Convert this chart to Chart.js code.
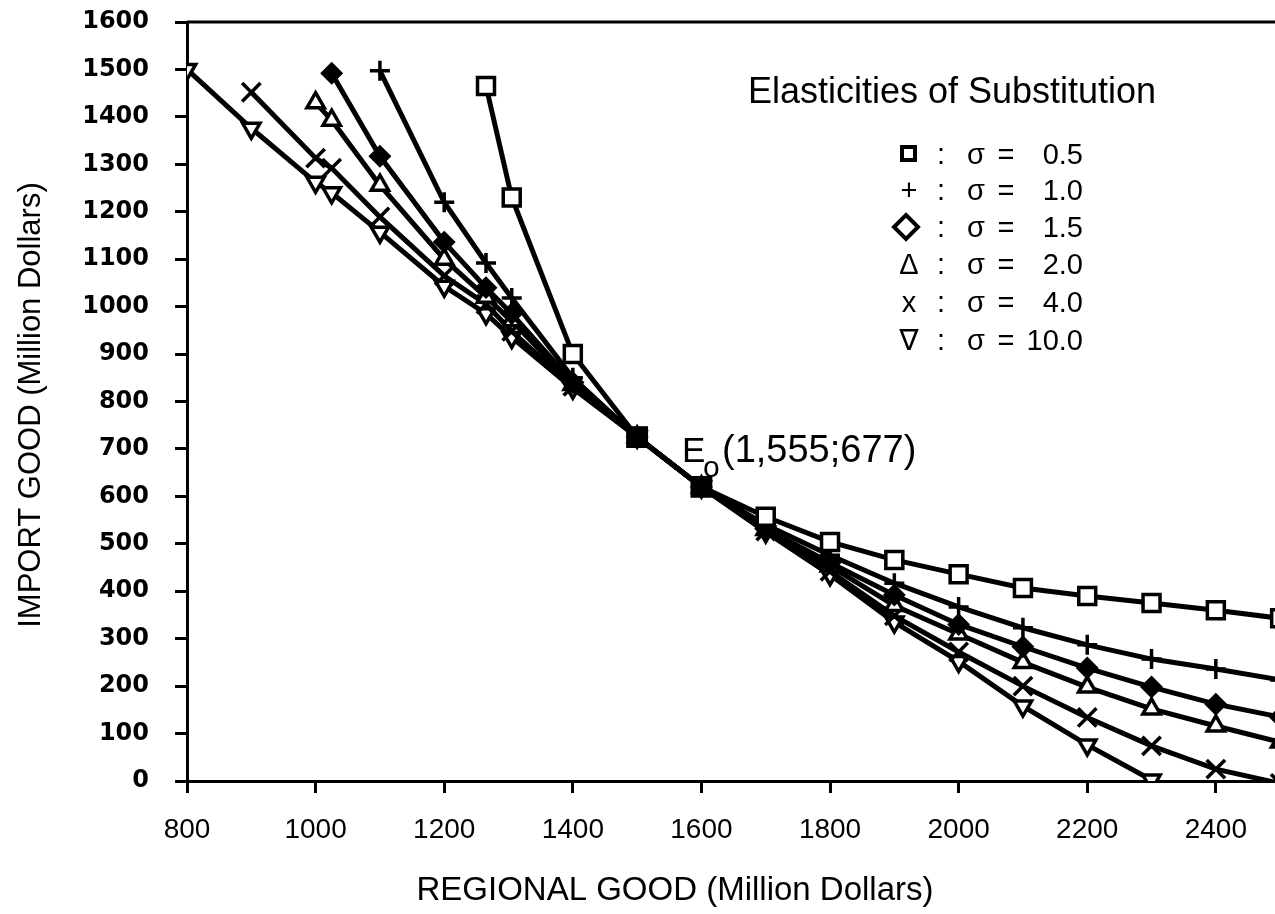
<!DOCTYPE html>
<html>
<head>
<meta charset="utf-8">
<script src="https://cdn.jsdelivr.net/npm/chart.js@4"></script>
<style>
  html, body { margin: 0; padding: 0; background: #fff; }
  #wrap { width: 1275px; height: 914px; }
</style>
</head>
<body>
<div id="wrap"><canvas id="chart" width="1275" height="914"></canvas></div>
<script>
// tick labels
const xTicks = [800, 1000, 1200, 1400, 1600, 1800, 2000, 2200, 2400];
const yTicks = [0, 100, 200, 300, 400, 500, 600, 700, 800, 900, 1000, 1100, 1200, 1300, 1400, 1500, 1600];

// series values (regional good, import good)
const s05x = [1265, 1305, 1400, 1500, 1600, 1700, 1800, 1900, 2000, 2100, 2200, 2300, 2400, 2500];
const s05y = [1465, 1230, 900, 725, 620, 557, 504, 466, 436, 407, 390, 375, 360, 343];

const s10x = [1100, 1200, 1265, 1305, 1400, 1500, 1600, 1700, 1800, 1900, 2000, 2100, 2200, 2300, 2400, 2500];
const s10y = [1497, 1220, 1092, 1018, 850, 725, 620, 540, 476, 417, 367, 323, 287, 257, 236, 213];

const s15x = [1025, 1100, 1200, 1265, 1305, 1400, 1500, 1600, 1700, 1800, 1900, 2000, 2100, 2200, 2300, 2400, 2500];
const s15y = [1492, 1317, 1136, 1040, 985, 840, 725, 620, 532, 460, 392, 330, 283, 238, 198, 162, 135];

const s20x = [1000, 1025, 1100, 1200, 1265, 1305, 1400, 1500, 1600, 1700, 1800, 1900, 2000, 2100, 2200, 2300, 2400, 2500];
const s20y = [1430, 1393, 1256, 1100, 1020, 970, 836, 725, 620, 530, 453, 370, 310, 250, 198, 152, 116, 82];

const s40x = [900, 1000, 1025, 1100, 1200, 1265, 1305, 1400, 1500, 1600, 1700, 1800, 1900, 2000, 2100, 2200, 2300, 2400, 2500];
const s40y = [1452, 1313, 1292, 1189, 1065, 1005, 948, 832, 725, 620, 527, 442, 348, 272, 200, 134, 74, 25, -5];

const s100x = [800, 900, 1000, 1025, 1100, 1200, 1265, 1305, 1400, 1500, 1600, 1700, 1800, 1900, 2000, 2100, 2200, 2300];
const s100y = [1500, 1376, 1262, 1240, 1157, 1043, 985, 935, 828, 725, 620, 525, 435, 335, 252, 158, 76, 2];

// equilibrium points
const eqX = [1500, 1600];
const eqY = [725, 620];

const legendSymbols = ['', '+', '', '\u0394', 'x', '\u2207'];
const legendValues = ['0.5', '1.0', '1.5', '2.0', '4.0', '10.0'];

function pts(xs, ys) {
    return xs.map((x, i) => ({ x: x, y: ys[i] }));
}

function serie(label, xs, ys, style, extra) {
    return Object.assign({
        label: label,
        data: pts(xs, ys),
        showLine: true,
        borderColor: '#000',
        borderWidth: 5,
        pointBorderColor: '#000',
        pointBackgroundColor: '#fff',
        pointBorderWidth: 3.5,
        pointRadius: 8,
        pointStyle: style
    }, extra || {});
}

// top frame line, legend block, axis titles, E0 label
const decor = {
    id: 'decor',
    afterDraw(chart) {
        const ctx = chart.ctx;
        const a = chart.chartArea;
        ctx.save();
        ctx.strokeStyle = '#000';
        ctx.lineWidth = 3;
        ctx.beginPath();
        ctx.moveTo(a.left, a.top);
        ctx.lineTo(1275, a.top);
        ctx.stroke();

        ctx.fillStyle = '#000';
        ctx.textBaseline = 'alphabetic';
        ctx.font = '36px "Liberation Sans", Arial, sans-serif';
        ctx.textAlign = 'center';
        ctx.fillText('Elasticities of Substitution', 952, 103);

        const rows = [164, 200, 237, 274, 312, 350];
        rows.forEach((y, i) => {
            ctx.textAlign = 'center';
            ctx.font = '29px "Liberation Sans", "DejaVu Sans", sans-serif';
            if (i === 0) {
                ctx.lineWidth = 4;
                ctx.strokeRect(902, y - 17, 13, 13);
            } else if (i === 2) {
                ctx.lineWidth = 4;
                ctx.beginPath();
                ctx.moveTo(906, y - 22);
                ctx.lineTo(918, y - 10);
                ctx.lineTo(906, y + 2);
                ctx.lineTo(894, y - 10);
                ctx.closePath();
                ctx.stroke();
            } else {
                ctx.fillText(legendSymbols[i], 909, y);
            }
            ctx.fillText(':', 941, y);
            ctx.fillText('\u03C3', 976, y);
            ctx.fillText('=', 1006, y);
            ctx.textAlign = 'right';
            ctx.fillText(legendValues[i], 1083, y);
        });

        // E0 label
        ctx.textAlign = 'left';
        ctx.font = '35px "Liberation Sans", Arial, sans-serif';
        ctx.fillText('E', 682, 462);
        ctx.font = '30px "Liberation Sans", Arial, sans-serif';
        ctx.fillText('o', 703, 477);
        ctx.font = '38px "Liberation Sans", Arial, sans-serif';
        ctx.fillText('(1,555;677)', 722, 462);

        // axis titles
        ctx.font = '33px "Liberation Sans", Arial, sans-serif';
        ctx.textAlign = 'center';
        ctx.fillText('REGIONAL GOOD (Million Dollars)', 675, 900);
        ctx.font = '31px "Liberation Sans", Arial, sans-serif';
        ctx.translate(40, 405);
        ctx.rotate(-Math.PI / 2);
        ctx.fillText('IMPORT GOOD (Million Dollars)', 0, 0);
        ctx.restore();
    }
};

const ctx = document.getElementById('chart').getContext('2d');
new Chart(ctx, {
    type: 'scatter',
    data: {
        datasets: [
            serie('eq', eqX, eqY, 'rect', { showLine: false, pointBackgroundColor: '#000', pointRadius: 13 }),
            serie('\u03C3 = 0.5', s05x, s05y, 'rect', { pointRadius: 12 }),
            serie('\u03C3 = 1.0', s10x, s10y, 'cross', { pointRadius: 10 }),
            serie('\u03C3 = 1.5', s15x, s15y, 'rectRot', { pointBackgroundColor: '#000', pointRadius: 9 }),
            serie('\u03C3 = 2.0', s20x, s20y, 'triangle', { pointRadius: 10 }),
            serie('\u03C3 = 4.0', s40x, s40y, 'crossRot', { pointRadius: 13 }),
            serie('\u03C3 = 10.0', s100x, s100y, 'triangle', { pointRadius: 10, pointRotation: 180 })
        ]
    },
    options: {
        responsive: false,
        animation: false,
        layout: { autoPadding: false, padding: { top: 22, right: 0, left: 0, bottom: 0 } },
        plugins: {
            legend: { display: false },
            tooltip: { enabled: false }
        },
        scales: {
            x: {
                type: 'linear',
                min: 800,
                max: 2492,
                afterBuildTicks: s => { s.ticks = xTicks.map(v => ({ value: v })); },
                afterFit: s => { s.height = 133; s.paddingLeft = 0; s.paddingRight = 0; },
                border: { display: true, color: '#000', width: 3 },
                grid: { display: true, drawOnChartArea: false, drawTicks: true, tickLength: 12, color: '#000', lineWidth: 3 },
                ticks: {
                    color: '#000',
                    padding: 20,
                    maxRotation: 0,
                    callback: v => String(v),
                    font: { family: '"Liberation Sans", Arial, sans-serif', size: 28 }
                }
            },
            y: {
                type: 'linear',
                min: 0,
                max: 1600,
                afterBuildTicks: s => { s.ticks = yTicks.map(v => ({ value: v })); },
                afterFit: s => { s.width = 187; s.paddingTop = 0; s.paddingBottom = 0; },
                border: { display: true, color: '#000', width: 3 },
                grid: { display: true, drawOnChartArea: false, drawTicks: true, tickLength: 12, color: '#000', lineWidth: 3 },
                ticks: {
                    color: '#000',
                    padding: 26,
                    callback: v => String(v),
                    font: { family: '"DejaVu Sans", sans-serif', size: 24, weight: 'bold' }
                }
            }
        }
    },
    plugins: [decor]
});
</script>
</body>
</html>
